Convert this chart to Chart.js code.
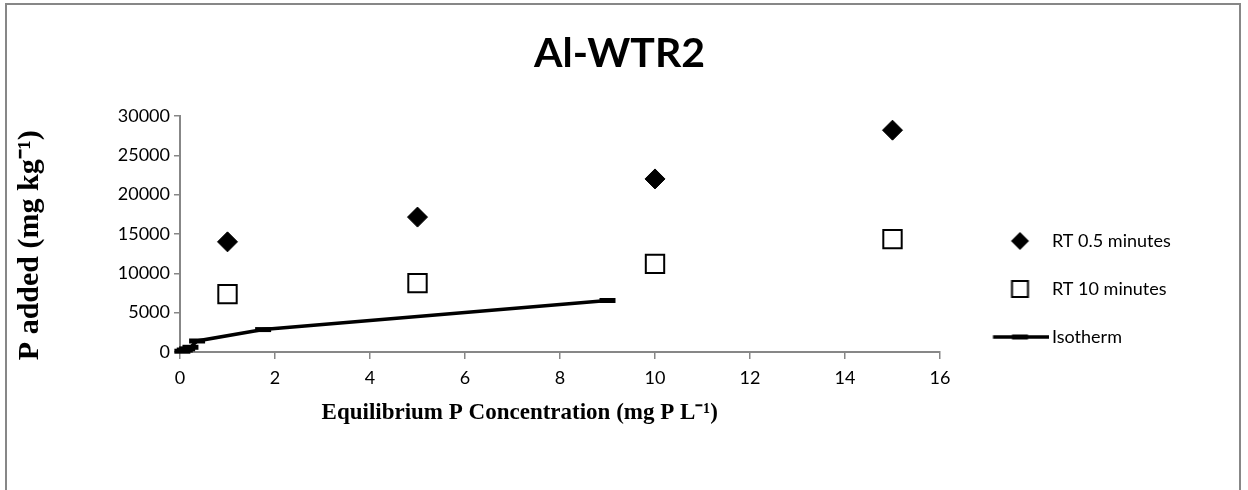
<!DOCTYPE html>
<html><head><meta charset="utf-8">
<script src="https://cdn.jsdelivr.net/npm/chart.js@4.4.1/dist/chart.umd.min.js"></script>
<style>
html,body{margin:0;padding:0;overflow:hidden;background:#fff;width:1248px;height:490px;}
#frame{position:absolute;left:5px;top:3px;width:1236px;height:520px;box-sizing:border-box;border:2px solid #878787;border-bottom:none;}
canvas{position:absolute;left:0;top:0;}
</style></head><body>
<div id="frame"></div>
<canvas id="c" width="1248" height="490"></canvas>
<script>
const chartTitle = 'Al-WTR2';
const xTitle = 'Equilibrium P Concentration (mg P L⁻¹)';
const yTitle = 'P added (mg kg⁻¹)';
const seriesNames = ['RT 0.5 minutes', 'RT 10 minutes', 'Isotherm'];
const rt05X = [1, 5, 10, 15];
const rt05Y = [14000, 17150, 22000, 28200];
const rt10X = [1, 5, 10, 15];
const rt10Y = [7350, 8750, 11200, 14350];
const isoX = [0.05, 0.1, 0.15, 0.22, 0.36, 1.75, 9.0];
const isoY = [100, 250, 400, 600, 1400, 2850, 6550];
const xTicks = [0, 2, 4, 6, 8, 10, 12, 14, 16];
const yTicks = [0, 5000, 10000, 15000, 20000, 25000, 30000];

const NB = '\u00a0';
const W = 1248, plotRight = 940, titleCenterTarget = 622;
const legendPad = 30, legendBoxW = 73, legendFont = 18;

// measure to lay the legend out so that the plot area ends at plotRight
const mctx = document.createElement('canvas').getContext('2d');
mctx.font = legendFont + 'px Lato';
const maxLabelW = Math.max(...seriesNames.map(t => mctx.measureText(t).width));
const legendW = legendPad + legendBoxW + legendFont / 2 + maxLabelW + 10;
const padRight = Math.max(0, W - plotRight - legendW);
mctx.font = 'bold 41px Lato';
const titleSpace = mctx.measureText(NB).width;
const titleShift = 2 * (titleCenterTarget - (W - padRight) / 2);
const titleLead = NB.repeat(Math.max(0, Math.round(titleShift / titleSpace)));

function icon(draw) {
  const c = document.createElement('canvas');
  c.width = 84; c.height = 24;
  draw(c.getContext('2d'));
  return c;
}
const icx = 55.5, icy = 12;
const legendIcons = [
  icon(g => { g.fillStyle = '#000'; g.beginPath(); g.moveTo(icx - 9, icy); g.lineTo(icx, icy - 9); g.lineTo(icx + 9, icy); g.lineTo(icx, icy + 9); g.closePath(); g.fill(); }),
  icon(g => { g.fillStyle = '#fff'; g.strokeStyle = '#000'; g.lineWidth = 2; g.fillRect(icx - 8, icy - 8, 16, 16); g.strokeRect(icx - 8, icy - 8, 16, 16); }),
  icon(g => { g.strokeStyle = '#000'; g.lineWidth = 3.5; g.beginPath(); g.moveTo(28.5, icy); g.lineTo(84, icy); g.stroke(); g.lineWidth = 5; g.beginPath(); g.moveTo(icx - 8, icy); g.lineTo(icx + 8, icy); g.stroke(); })
];

const pts = (xs, ys) => xs.map((x, i) => ({x: x, y: ys[i]}));
const axisGray = '#878787';

new Chart(document.getElementById('c'), {
  type: 'scatter',
  data: {
    datasets: [
      {label: seriesNames[0], data: pts(rt05X, rt05Y), pointStyle: 'rectRot', pointRadius: 10, pointHoverRadius: 10,
       backgroundColor: '#000', borderColor: '#000', borderWidth: 1, clip: false},
      {label: seriesNames[1], data: pts(rt10X, rt10Y), pointStyle: 'rect', pointRadius: 13, pointHoverRadius: 13,
       backgroundColor: '#fff', borderColor: '#000', borderWidth: 2, clip: false},
      {label: seriesNames[2], data: pts(isoX, isoY), showLine: true, borderColor: '#000', borderWidth: 3.5,
       backgroundColor: '#000', pointStyle: 'line', pointRadius: 8, pointHoverRadius: 8, pointBorderWidth: 5,
       pointBorderColor: '#000', tension: 0, clip: false}
    ]
  },
  options: {
    responsive: false, animation: false, devicePixelRatio: 1,
    layout: {padding: {left: 0, top: 0, bottom: 0, right: padRight}},
    plugins: {
      tooltip: {enabled: false},
      title: {display: true, text: titleLead + chartTitle, color: '#000',
        font: {family: 'Lato', size: 41, weight: 'bold', lineHeight: 1.2},
        padding: {top: 29, bottom: 37.8}},
      legend: {
        position: 'right', align: 'start',
        title: {display: true, text: '', font: {size: 10, lineHeight: 1}, padding: {top: 192, bottom: 0}},
        labels: {
          usePointStyle: true, pointStyleWidth: legendBoxW, padding: legendPad, color: '#000',
          font: {family: 'Lato', size: legendFont},
          generateLabels(chart) {
            const items = Chart.defaults.plugins.legend.labels.generateLabels(chart);
            items.forEach((it, i) => { it.pointStyle = legendIcons[i]; it.text = seriesNames[i]; });
            return items;
          }
        }
      }
    },
    scales: {
      x: {
        type: 'linear', min: 0, max: 16,
        afterBuildTicks: s => { s.ticks = xTicks.map(v => ({value: v})); },
        afterFit: s => { s.height = 138; },
        grid: {drawOnChartArea: false, drawTicks: true, tickLength: 7, color: axisGray, lineWidth: 1.5},
        border: {color: axisGray, width: 2},
        ticks: {color: '#000', font: {family: 'Lato', size: 18}, padding: 8, maxRotation: 0, autoSkip: false,
                callback: v => String(v)},
        title: {display: true, text: xTitle + NB.repeat(14), color: '#000',
          font: {family: 'Liberation Serif', size: 23, weight: 'bold', lineHeight: 1.2},
          padding: {top: 0, bottom: 63.2}}
      },
      y: {
        type: 'linear', min: 0, max: 30000,
        afterBuildTicks: s => { s.ticks = yTicks.map(v => ({value: v})); },
        afterFit: s => { s.width = 180; },
        grid: {drawOnChartArea: false, drawTicks: true, tickLength: 6, color: axisGray, lineWidth: 1.5},
        border: {color: axisGray, width: 2},
        ticks: {color: '#000', font: {family: 'Lato', size: 18}, padding: 4, autoSkip: false,
                callback: v => String(v)},
        title: {display: true, text: yTitle + NB.repeat(3), color: '#000',
          font: {family: 'Liberation Serif', size: 30, weight: 'bold', lineHeight: 1.2},
          padding: {top: 12, bottom: 0}}
      }
    }
  }
});
</script>
</body></html>
